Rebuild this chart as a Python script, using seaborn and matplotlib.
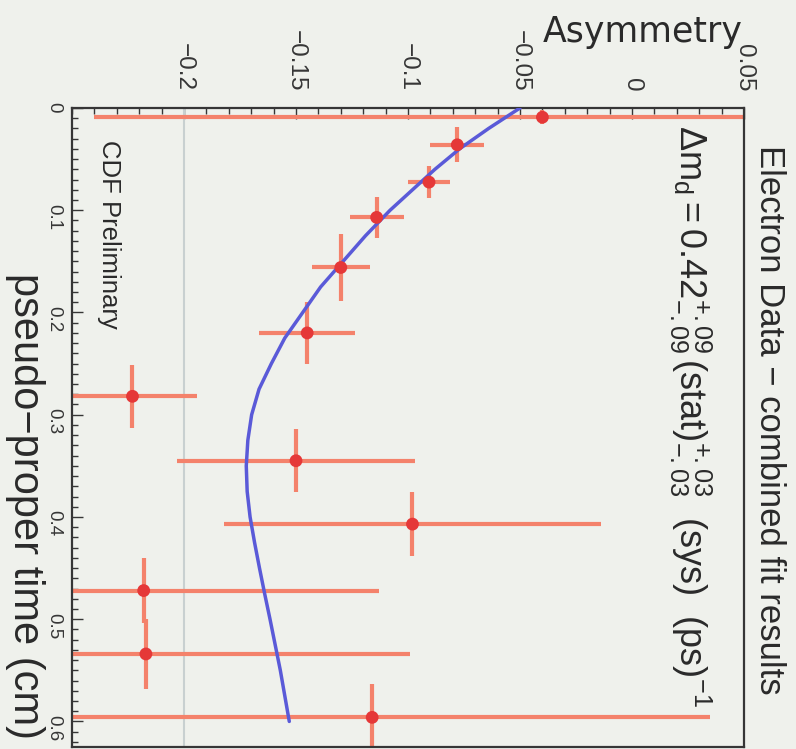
import numpy as np
import pandas as pd
import matplotlib
matplotlib.use("Agg")
import matplotlib.pyplot as plt
from matplotlib.ticker import FixedLocator, FixedFormatter, MultipleLocator
import seaborn as sns

# ---- data ----
time_cm = [0.009, 0.036, 0.0725, 0.107, 0.156, 0.220, 0.282, 0.345, 0.407, 0.472, 0.534, 0.596]
asymmetry = [-0.040, -0.078, -0.0906, -0.114, -0.130, -0.145, -0.223, -0.150, -0.098, -0.218, -0.217, -0.116]
asym_err = [0.200, 0.012, 0.0095, 0.012, 0.013, 0.0215, 0.0286, 0.053, 0.084, 0.105, 0.118, 0.151]
time_err = [0.007, 0.017, 0.016, 0.020, 0.033, 0.030, 0.031, 0.031, 0.031, 0.032, 0.034, 0.033]

fit_time = [0.000, 0.020, 0.040, 0.060, 0.080, 0.100, 0.125, 0.150, 0.175, 0.200, 0.225,
            0.250, 0.275, 0.300, 0.325, 0.350, 0.375, 0.400, 0.425, 0.450, 0.475,
            0.500, 0.525, 0.550, 0.575, 0.600]
fit_asym = [-0.050, -0.064, -0.077, -0.088, -0.098, -0.108, -0.119, -0.129, -0.139, -0.147, -0.155,
            -0.161, -0.1665, -0.1698, -0.1715, -0.1722, -0.1718, -0.1705, -0.1685, -0.1663, -0.164,
            -0.1616, -0.1593, -0.157, -0.155, -0.153]

asym_ticks = [-0.2, -0.15, -0.1, -0.05, 0.0, 0.05]
asym_ticklabels = ["\u22120.2", "\u22120.15", "\u22120.1", "\u22120.05", "0", "0.05"]
time_ticks = [0.0, 0.1, 0.2, 0.3, 0.4, 0.5, 0.6]
time_ticklabels = ["0", "0.1", "0.2", "0.3", "0.4", "0.5", "0.6"]

title = "Electron Data \u2212 combined fit results"
fit_label = (r"$\mathregular{\Delta m_{d}{=}0.42^{+.09}_{-.09}\,(stat)^{+.03}_{-.03}"
             r"\ \ (sys)\ \ (ps)^{-1}}$")
xlabel = "pseudo\u2212proper time (cm)"
ylabel = "Asymmetry"
watermark = "CDF Preliminary"

# ---- style ----
sns.set_theme(style="white")
plt.rcParams["font.family"] = ["Liberation Sans", "DejaVu Sans"]
plt.rcParams["mathtext.fontset"] = "custom"
plt.rcParams["mathtext.rm"] = "Liberation Sans"
plt.rcParams["mathtext.it"] = "Liberation Sans:italic"
plt.rcParams["mathtext.bf"] = "Liberation Sans:bold"
plt.rcParams["axes.unicode_minus"] = True

bg = "#eff1ec"
frame_c = "#363636"
err_c = "#f4826b"
dot_c = "#e53838"
fit_c = "#5a5ad8"

W, H = 796, 749
fig = plt.figure(figsize=(W / 100, H / 100), dpi=100)
fig.patch.set_facecolor(bg)
ax = fig.add_axes([72 / W, 1 - 747 / H, (744 - 72) / W, (747 - 108) / H])
ax.set_facecolor(bg)

df = pd.DataFrame({"t": time_cm, "a": asymmetry, "ea": asym_err, "et": time_err})
fit_df = pd.DataFrame({"t": fit_time, "a": fit_asym})

ax.axvline(-0.2, color="#c8d0d0", lw=1.5, zorder=1)
ax.errorbar(df["a"], df["t"], xerr=df["ea"], yerr=df["et"], fmt="none",
            ecolor=err_c, elinewidth=3, capsize=0, zorder=2)
sns.lineplot(data=fit_df, x="a", y="t", sort=False, estimator=None,
             color=fit_c, lw=2.5, ax=ax, zorder=3)
sns.scatterplot(data=df, x="a", y="t", color=dot_c, s=85, edgecolor="none",
                ax=ax, zorder=4)

ax.set_xlim(-0.25, 0.05)
ax.set_ylim(0.625, 0.0)
ax.set_xlabel("")
ax.set_ylabel("")

ax.xaxis.tick_top()
ax.xaxis.set_major_locator(FixedLocator(asym_ticks))
ax.xaxis.set_major_formatter(FixedFormatter(asym_ticklabels))
ax.xaxis.set_minor_locator(MultipleLocator(0.01))
ax.yaxis.set_major_locator(FixedLocator(time_ticks))
ax.yaxis.set_major_formatter(FixedFormatter(time_ticklabels))
ax.yaxis.set_minor_locator(MultipleLocator(0.01))

ax.tick_params(axis="x", which="both", direction="in", top=True, bottom=False,
               labeltop=True, labelbottom=False, colors=frame_c)
ax.tick_params(axis="x", which="major", length=8, width=1, labelsize=17.5,
               labelrotation=270, pad=12)
ax.tick_params(axis="x", which="minor", length=4, width=1)
ax.tick_params(axis="y", which="both", direction="in", left=True, right=False,
               labelleft=True, labelright=False, colors=frame_c)
ax.tick_params(axis="y", which="major", length=8, width=1, labelsize=13.5,
               labelrotation=270, pad=7)
ax.tick_params(axis="y", which="minor", length=4, width=1)

for s in ax.spines.values():
    s.set_visible(True)
    s.set_color(frame_c)
    s.set_linewidth(1.6)

# ---- texts ----
fig.text(743 / W, 1 - 42 / H, ylabel, ha="right", va="baseline",
         fontsize=25, family="DejaVu Sans", color="#2a2a2a")
fig.text(25 / W, 1 - 273 / H, xlabel, rotation=270, ha="center", va="top",
         fontsize=30, color="#2a2a2a")
fig.text(769 / W, 1 - 145 / H, title, rotation=270, ha="center", va="top",
         fontsize=25, color="#2a2a2a")
fig.text(690 / W, 1 - 125 / H, fit_label, rotation=270, ha="center", va="top",
         fontsize=26, color="#2a2a2a")
fig.text(109 / W, 1 - 140 / H, watermark, rotation=270, ha="center", va="top",
         fontsize=18.5, color="#2a2a2a")

fig.savefig("out.png", dpi=100, facecolor=bg)
